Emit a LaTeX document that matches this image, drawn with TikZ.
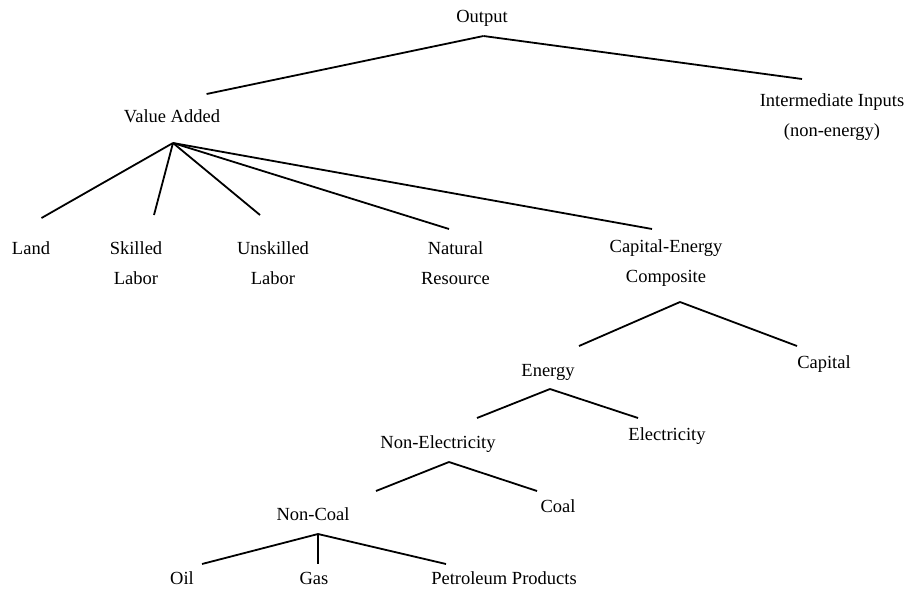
\documentclass[tikz,border=0pt]{standalone}
\usepackage{fontspec}
\setmainfont{Liberation Serif}
\usetikzlibrary{calc}

\begin{document}
\begin{tikzpicture}[x=1pt, y=-1pt, line width=1.8pt,
    lbl/.style = {inner sep=0pt, font=\fontsize{18.5}{29}\selectfont,
      text height=16pt, text depth=4pt},
    lbl2/.style = {inner sep=0pt, font=\fontsize{18.5}{30}\selectfont,
      align=center}]
  \useasboundingbox (0, 0) rectangle (905, 589);
  % top level
  \node[lbl] (out) at (482, 16) {Output};
  \node[lbl] (va) at (172, 116) {Value Added};
  \node[lbl2] (ii) at (832, 117) {Intermediate Inputs\\(non-energy)};
  % value added inputs
  \node[lbl] (land) at (31, 248) {Land};
  \node[lbl2] (skl) at (136, 263.5) {Skilled\\Labor};
  \node[lbl2] (unskl) at (273, 263.5) {Unskilled\\Labor};
  \node[lbl2] (natres) at (455.5, 263.5) {Natural\\Resource};
  \node[lbl2] (ce) at (666, 263.5) {Capital-Energy\\Composite};
  % capital-energy nest
  \node[lbl] (energy) at (548, 370) {Energy};
  \node[lbl] (capital) at (824, 362) {Capital};
  \node[lbl] (nonelec) at (438, 442) {Non-Electricity};
  \node[lbl] (elec) at (667, 434) {Electricity};
  \node[lbl] (noncoal) at (313, 514) {Non-Coal};
  \node[lbl] (coal) at (558, 506) {Coal};
  \node[lbl] (oil) at (182, 578) {Oil};
  \node[lbl] (gas) at (314, 578) {Gas};
  \node[lbl] (petro) at (504, 578) {Petroleum Products};
  % branches
  \draw ($(out)+(1.5, 20)$) -- ($(va)+(34.6, -22)$);
  \draw ($(out)+(1.5, 20)$) -- ($(ii)+(-30, -38)$);
  \foreach \c/\dx/\dy in {land/10.5/-30, skl/18/-48.5, unskl/-13/-48.5,
    natres/-6.5/-34.5, ce/-14/-34.5}
  \draw ($(va)+(1, 27)$) -- ($(\c)+(\dx, \dy)$);
  \draw ($(ce)+(14, 38.5)$) -- ($(energy)+(31, -24)$);
  \draw ($(ce)+(14, 38.5)$) -- ($(capital)+(-27, -16)$);
  \draw ($(energy)+(2, 19)$) -- ($(nonelec)+(39, -24)$);
  \draw ($(energy)+(2, 19)$) -- ($(elec)+(-29, -16)$);
  \draw ($(nonelec)+(11, 20)$) -- ($(noncoal)+(63, -23)$);
  \draw ($(nonelec)+(11, 20)$) -- ($(coal)+(-21, -15)$);
  \foreach \c/\dx in {oil/20, gas/4, petro/-58}
  \draw ($(noncoal)+(5, 20)$) -- ($(\c)+(\dx, -14)$);
\end{tikzpicture}
\end{document}
